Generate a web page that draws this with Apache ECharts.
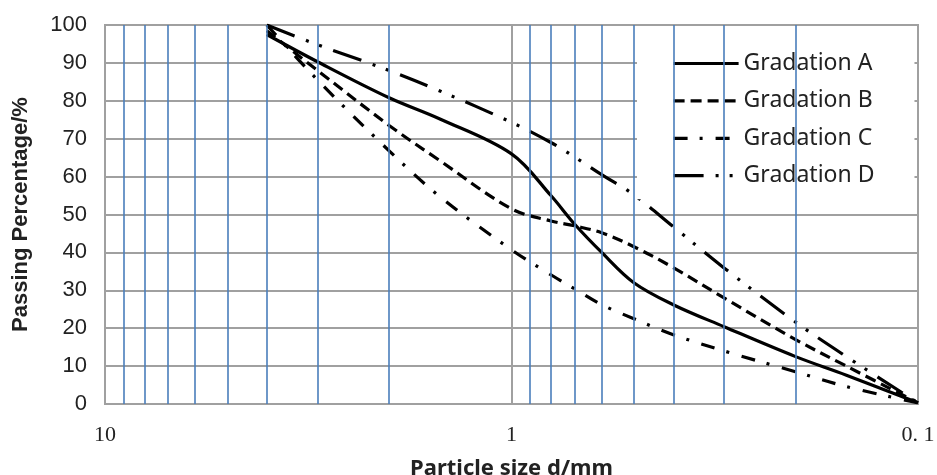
<!DOCTYPE html>
<html>
<head>
<meta charset="utf-8">
<script src="https://cdn.jsdelivr.net/npm/echarts@6/dist/echarts.min.js"></script>
<style>
  html, body { margin: 0; padding: 0; background: #fff; }
  #chart { width: 937px; height: 475px; }
</style>
</head>
<body>
<div id="chart"></div>
<script>
// particle sizes (mm) where the curves were read
const sizes = [4, 3, 2, 1.5, 1, 0.8, 0.7, 0.6, 0.5, 0.4, 0.3, 0.2, 0.15, 0.1];
const gradationA = [97.5, 90.3, 80.8, 75.2, 66, 55, 47.5, 40, 32, 26.2, 20.4, 12.5, 7.6, 0.3];
const gradationB = [98.5, 88, 73.5, 64.2, 51.5, 48.3, 47, 45.2, 41.5, 36, 28, 17, 10, 0.3];
const gradationC = [100, 85.5, 66.8, 54.7, 40.7, 34.1, 30.4, 26.2, 22.5, 18.3, 14, 8.5, 4.6, 0.3];
const gradationD = [100, 94.8, 88, 82.6, 74.3, 69, 65.2, 60.5, 55.2, 46.8, 35.9, 21.6, 12.5, 0.3];
const seriesNames = ['Gradation A', 'Gradation B', 'Gradation C', 'Gradation D'];

// blue minor grid lines (log decades)
const minorSizes = [9, 8, 7, 6, 5, 4, 3, 2, 0.9, 0.8, 0.7, 0.6, 0.5, 0.4, 0.3, 0.2];
const xTickValues = [10, 1, 0.1];
const xTickLabels = ['10', '1', '0. 1'];

const chart = echarts.init(document.getElementById('chart'));

const pairs = vals => sizes.map((d, i) => [d, vals[i]]);
const curve = (name, vals, type) => ({
  name: name,
  type: 'line',
  data: pairs(vals),
  smooth: 0.35,
  symbol: 'none',
  z: 3,
  lineStyle: { color: '#000', width: 3.2, type: type },
  itemStyle: { color: '#000' }
});

const option = {
  animation: false,
  grid: {
    left: 105, right: 19, top: 25, bottom: 71,
    show: true, borderColor: '#a0a0a0', borderWidth: 2,
    outerBoundsMode: 'none'
  },
  legend: {
    data: seriesNames,
    orient: 'vertical',
    left: 637,
    top: 38,
    backgroundColor: '#fff',
    padding: [14, 40, 12, 35],
    itemWidth: 65,
    itemHeight: 14,
    itemGap: 14.4,
    selectedMode: false,
    itemStyle: { color: 'transparent', borderWidth: 0 },
    lineStyle: { width: 3.2 },
    textStyle: { fontFamily: 'Noto Sans', fontSize: 23, color: '#222' }
  },
  xAxis: {
    type: 'log',
    logBase: 10,
    min: 0.1,
    max: 10,
    inverse: true,
    name: 'Particle size d/mm',
    nameLocation: 'middle',
    nameGap: 54,
    nameTextStyle: { fontFamily: 'Noto Sans', fontWeight: 'bold', fontSize: 22, color: '#222' },
    axisLine: { show: false },
    axisTick: { show: false },
    axisLabel: {
      margin: 20,
      fontFamily: 'Liberation Serif',
      fontSize: 22,
      color: '#222',
      formatter: v => {
        let best = 0;
        xTickValues.forEach((t, i) => {
          if (Math.abs(Math.log10(v) - Math.log10(t)) < Math.abs(Math.log10(v) - Math.log10(xTickValues[best]))) best = i;
        });
        return xTickLabels[best];
      }
    },
    splitLine: { show: true, lineStyle: { color: '#a0a0a0', width: 2 } }
  },
  yAxis: {
    type: 'value',
    min: 0,
    max: 100,
    interval: 10,
    name: 'Passing Percentage/%',
    nameLocation: 'middle',
    nameGap: 73,
    nameTextStyle: { fontFamily: 'Liberation Sans', fontWeight: 'bold', fontSize: 22, color: '#222' },
    axisLine: { show: false },
    axisTick: { show: false },
    axisLabel: { margin: 18, fontFamily: 'Liberation Sans', fontSize: 22, color: '#222' },
    splitLine: { show: true, lineStyle: { color: '#a0a0a0', width: 2 } }
  },
  series: [
    {
      name: 'sieves',
      type: 'line',
      data: [],
      silent: true,
      z: 1,
      markLine: {
        silent: true,
        animation: false,
        symbol: ['none', 'none'],
        label: { show: false },
        lineStyle: { color: '#4a7ebb', width: 1.6, type: 'solid' },
        data: minorSizes.map(v => ({ xAxis: v }))
      }
    },
    curve('Gradation A', gradationA, 'solid'),
    curve('Gradation B', gradationB, [11, 6]),
    curve('Gradation C', gradationC, [14, 12, 3, 13]),
    curve('Gradation D', gradationD, [30, 12, 3, 11, 3, 12])
  ]
};

chart.setOption(option);
</script>
</body>
</html>
